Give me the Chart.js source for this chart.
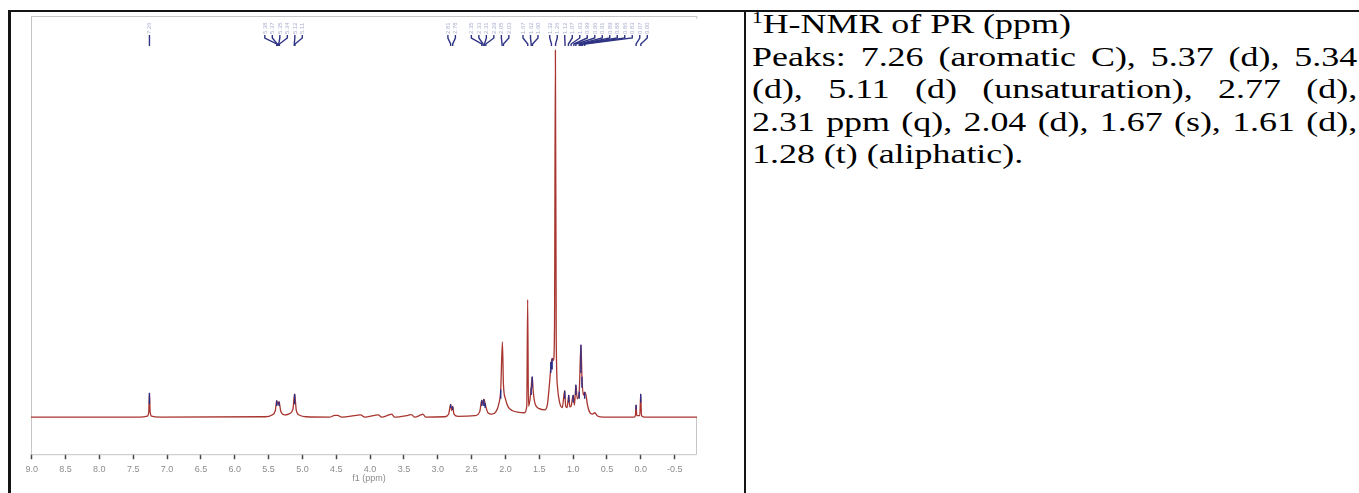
<!DOCTYPE html>
<html>
<head>
<meta charset="utf-8">
<script src="https://cdn.jsdelivr.net/npm/chart.js@4.4.1/dist/chart.umd.min.js"></script>
<style>
  body { margin: 0; background: #fff; width: 1359px; height: 493px; overflow: hidden; position: relative; }
  #topline { position: absolute; left: 10px; top: 10px; width: 1349px; height: 2px; background: #141414; }
  #leftline { position: absolute; left: 8px; top: 10px; width: 3px; height: 483px; background: #141414; }
  #midline { position: absolute; left: 744px; top: 12px; width: 2px; height: 481px; background: #141414; }
  #nmr { position: absolute; left: 11px; top: 12px; }
  #txt { position: absolute; left: 752px; top: 8px; width: 455px; font-family: "Liberation Serif", "Times New Roman", serif; font-size: 27px; color: #000; transform: scaleX(1.33); transform-origin: 0 0; }
  .ln { height: 32.5px; line-height: 32.5px; white-space: nowrap; }
  .j { text-align: justify; text-align-last: justify; white-space: normal; }
  sup { font-size: 16px; line-height: 0; vertical-align: 10px; }
</style>
</head>
<body>
<div id="topline"></div>
<div id="leftline"></div>
<div id="midline"></div>
<canvas id="nmr" width="734" height="481"></canvas>
<div id="txt">
  <div class="ln"><sup>1</sup>H-NMR of PR (ppm)</div>
  <div class="ln j">Peaks: 7.26 (aromatic C), 5.37 (d), 5.34</div>
  <div class="ln j">(d), 5.11 (d) (unsaturation), 2.77 (d),</div>
  <div class="ln j">2.31 ppm (q), 2.04 (d), 1.67 (s), 1.61 (d),</div>
  <div class="ln">1.28 (t) (aliphatic).</div>
</div>
<script>
// spectrum trace (ppm, relative intensity, tallest peak = 100)
const specPpm = [
  9.01, 7.40, 7.29, 7.27, 7.26, 7.25, 7.23, 7.10,
  5.55, 5.45, 5.40, 5.38, 5.36, 5.345, 5.32, 5.26, 5.20, 5.14, 5.115, 5.09, 5.04, 4.95,
  4.60, 4.52, 4.48, 4.42, 4.20, 4.14, 4.08, 3.93, 3.88, 3.83, 3.72, 3.68, 3.64,
  3.44, 3.39, 3.34, 3.25, 3.22, 3.18,
  2.90, 2.84, 2.81, 2.795, 2.78, 2.76, 2.70,
  2.45, 2.38, 2.35, 2.335, 2.32, 2.30, 2.285, 2.26, 2.20,
  2.14, 2.10, 2.07, 2.045, 2.03, 2.00, 1.96, 1.90, 1.80, 1.72,
  1.685, 1.672, 1.66, 1.64, 1.62, 1.605, 1.59, 1.56, 1.50, 1.42,
  1.38, 1.35, 1.325, 1.31, 1.29, 1.275, 1.262, 1.25, 1.23, 1.20, 1.16,
  1.125, 1.11, 1.09, 1.065, 1.05, 1.03, 1.00, 0.98, 0.96, 0.94, 0.91,
  0.885, 0.87, 0.85, 0.83, 0.81, 0.79, 0.76, 0.72, 0.68, 0.64, 0.55,
  0.10, 0.08, 0.07, 0.06, 0.015, 0.002, -0.01, -0.05, -0.83
];
const specInt = [
  0, 0, 0.3, 1.5, 6.6, 1.5, 0.3, 0,
  0.1, 0.6, 1.8, 4.5, 3.4, 4.2, 1.6, 0.6, 0.9, 2.2, 6.3, 1.8, 0.5, 0.1,
  0, 0.5, 0.5, 0, 0.5, 0.6, 0, 0.5, 0.6, 0, 0.6, 0.8, 0,
  0.5, 0.7, 0, 0.6, 0.8, 0,
  0.1, 0.8, 3.5, 1.8, 2.9, 0.8, 0.2,
  0.4, 1.5, 4.6, 3.5, 4.9, 3.8, 2.5, 1.2, 0.8,
  1.5, 3.5, 7.5, 20.5, 9, 5, 2.8, 1.8, 1.3, 1.2,
  3, 32, 3, 4.5, 8, 11, 7, 3.5, 2.3, 2,
  3.5, 9, 14.5, 16, 15.5, 25, 100, 22, 8, 4, 2.6,
  7.2, 3, 2.6, 6, 2.8, 3, 6, 3.3, 8.8, 5, 7,
  19.7, 11, 6, 6.8, 6, 3.5, 1.5, 0.8, 1.2, 0.3, 0,
  0, 0.4, 3.3, 0.4, 0.4, 6.3, 0.4, 0, 0
];

// blue multiplet tips on top of the red trace
const tipPpm  = [7.26, 5.38, 5.345, 5.115, 2.81, 2.78, 2.35, 2.32, 2.30, 2.07, 1.62, 1.605, 1.33, 1.31, 1.125, 1.065, 1.00, 0.96, 0.91, 0.885, 0.87, 0.83, 0.07, 0.002];
const tipLow  = [3.5, 3, 3, 3.5, 2.5, 2, 3, 3, 2.5, 5, 6, 8, 12, 13, 5, 4, 4, 6, 5, 12, 8, 5, 2, 4];
const tipHigh = [6.6, 4.5, 4.2, 6.3, 3.5, 2.9, 4.6, 4.9, 3.8, 7.5, 8, 11, 15, 16, 7.2, 6, 6, 8.8, 7, 19.7, 11, 6.8, 3.3, 6.3];

// peak-pick labels along the top, grouped as in the picture
const labelGroups = [
  [7.26],
  [5.38, 5.37, 5.35, 5.34, 5.12, 5.11],
  [2.81, 2.78],
  [2.35, 2.33, 2.31, 2.29, 2.05, 2.03],
  [1.67, 1.62, 1.60],
  [1.32, 1.26],
  [1.12, 1.07, 1.03, 0.99, 0.96, 0.91, 0.89, 0.88, 0.86, 0.83],
  [0.07, 0.00]
];

const tickVals = [9.0, 8.5, 8.0, 7.5, 7.0, 6.5, 6.0, 5.5, 5.0, 4.5, 4.0, 3.5, 3.0, 2.5, 2.0, 1.5, 1.0, 0.5, 0.0, -0.5];
const axisTitle = "f1 (ppm)";

const trace = specPpm.map((p, i) => ({ x: p, y: specInt[i] }));
const tips = [];
tipPpm.forEach((p, i) => {
  tips.push({ x: p, y: tipLow[i] }, { x: p, y: tipHigh[i] }, { x: p, y: null });
});

const decor = {
  id: "decor",
  beforeDatasetsDraw(chart) {
    const { ctx, chartArea: a, scales } = chart;
    const y0 = scales.y.getPixelForValue(0);
    ctx.save();
    ctx.strokeStyle = "#c6c6c6";
    ctx.lineWidth = 1;
    ctx.beginPath();
    ctx.moveTo(a.left, a.top + 0.5); ctx.lineTo(a.right, a.top + 0.5);
    ctx.lineTo(a.right - 0.5, a.top + 3);
    ctx.moveTo(a.left + 0.5, a.top); ctx.lineTo(a.left + 0.5, a.bottom + 0.5);
    ctx.lineTo(a.right - 0.5, a.bottom + 0.5); ctx.lineTo(a.right - 0.5, y0);
    ctx.stroke();
    ctx.restore();
  },
  afterDatasetsDraw(chart) {
    const { ctx, chartArea: a, scales } = chart;
    const xs = scales.x;
    const gap = 7.5;
    let last = -1e9;
    ctx.save();
    labelGroups.forEach((g) => {
      const mean = g.reduce((s, v) => s + v, 0) / g.length;
      let start = xs.getPixelForValue(mean) - (g.length - 1) * gap / 2;
      if (start < last + gap) start = last + gap;
      g.forEach((v, k) => {
        const sx = start + k * gap;
        const px = xs.getPixelForValue(v);
        // rotated label text
        ctx.save();
        ctx.translate(sx + 2, a.top + 18);
        ctx.rotate(-Math.PI / 2);
        ctx.fillStyle = "#a9aed0";
        ctx.font = "6px 'Liberation Sans'";
        ctx.textAlign = "left";
        ctx.fillText(v.toFixed(2), 0, 0);
        ctx.restore();
        // connector
        ctx.strokeStyle = "#2e3384";
        ctx.lineWidth = 1.4;
        ctx.beginPath();
        ctx.moveTo(sx, a.top + 19);
        ctx.lineTo(sx, a.top + 22);
        ctx.lineTo(px, a.top + 28);
        ctx.lineTo(px, a.top + 30);
        ctx.stroke();
      });
      last = start + (g.length - 1) * gap;
    });
    // axis title, tucked right under the tick labels
    ctx.fillStyle = "#8c8c8c";
    ctx.font = "9px 'Liberation Sans'";
    ctx.textAlign = "center";
    ctx.textBaseline = "middle";
    ctx.fillText(axisTitle, (a.left + a.right) / 2 + 5, a.bottom + 24);
    ctx.restore();
  }
};

new Chart(document.getElementById("nmr"), {
  type: "line",
  data: {
    datasets: [
      {
        data: tips,
        borderColor: "#2b2f8c",
        borderWidth: 1.4,
        pointRadius: 0,
        spanGaps: false,
      },
      {
        data: trace,
        borderColor: "#a8352f",
        borderWidth: 1.3,
        pointRadius: 0,
        cubicInterpolationMode: "monotone",
      },
    ],
  },
  options: {
    responsive: false,
    animation: false,
    devicePixelRatio: 1,
    layout: { padding: { left: 20, right: 48, top: 4, bottom: 13 } },
    plugins: { legend: { display: false }, tooltip: { enabled: false } },
    scales: {
      x: {
        type: "linear",
        reverse: true,
        min: -0.83,
        max: 9.01,
        afterBuildTicks: (axis) => { axis.ticks = tickVals.map((v) => ({ value: v })); },
        grid: { drawOnChartArea: false, drawTicks: true, tickLength: 5, tickColor: "#444", tickWidth: 1.5 },
        border: { display: false },
        ticks: {
          color: "#8c8c8c",
          font: { family: "Liberation Sans", size: 9 },
          padding: 5,
          maxRotation: 0,
          autoSkip: false,
          callback: (v) => v.toFixed(1),
        },
      },
      y: { display: false, min: -10.1, max: 109.3 },
    },
  },
  plugins: [decor],
});
</script>
</body>
</html>
